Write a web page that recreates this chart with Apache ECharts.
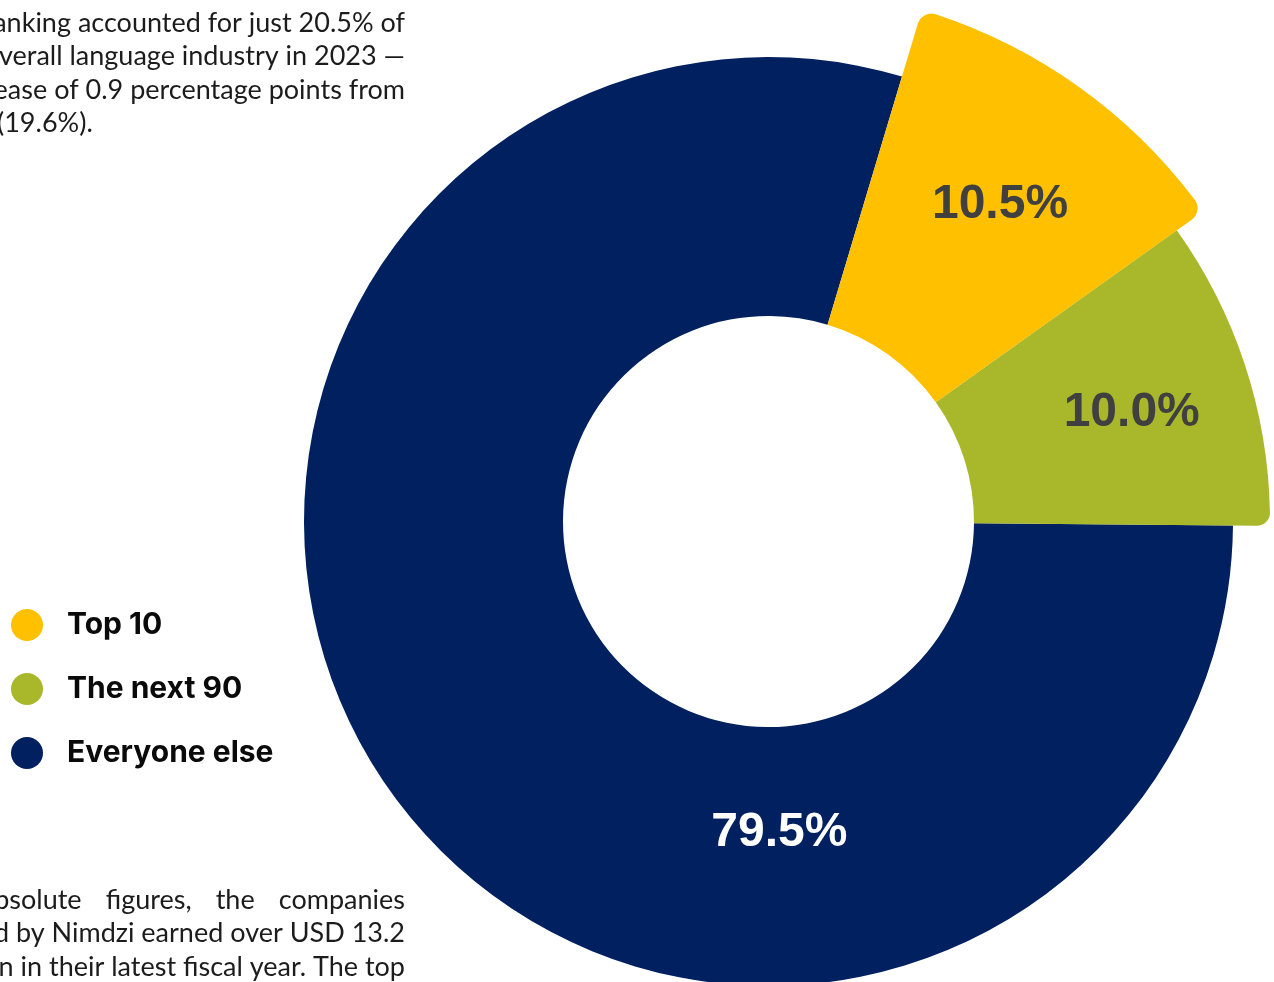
<!DOCTYPE html>
<html>
<head>
<meta charset="utf-8">
<style>
  html, body { margin: 0; padding: 0; background: #ffffff; }
  #chart { width: 1274px; height: 982px; }
</style>
<script src="https://cdn.jsdelivr.net/npm/echarts@6/dist/echarts.min.js"></script>
</head>
<body>
<div id="chart"></div>
<script>
// Share of the overall language industry, 2023 (percent)
const segments = ['The next 90', 'Top 10', 'Everyone else'];
const shares = [10.0, 10.5, 79.5];
const legendOrder = ['Top 10', 'The next 90', 'Everyone else'];
const segmentColors = { 'Top 10': '#FFC000', 'The next 90': '#A8B82A', 'Everyone else': '#00205F' };

// Surrounding report text
const introLines = [
  'ranking accounted for just 20.5% of',
  'the overall language industry in 2023 \u2014',
  'an increase of 0.9 percentage points from'
];
const introLastLine = '(19.6%).';
const outroFirstLine = ['In absolute', 'figures,', 'the', 'companies'];
const outroLines = [
  'ranked by Nimdzi earned over USD 13.2',
  'billion in their latest fiscal year. The top'
];

const CENTER = [768.5, 521.5];
const INNER = 205.5;

// Each segment gets its own ring so it can stand out at its own radius
const rings = {
  'Everyone else': { outer: 464.5, corners: 0, label: { angle: -88, r: 311, color: '#ffffff' }, z: 1 },
  'The next 90':   { outer: 501.5, corners: [0, 0, 13, 0], label: { angle: 16.6, r: 379, color: '#404040' }, z: 2 },
  'Top 10':        { outer: 534,   corners: [0, 0, 14, 14], label: { angle: 53.8, r: 392, color: '#404040' }, z: 3 }
};

function polar(angleDeg, r) {
  const a = angleDeg * Math.PI / 180;
  return [CENTER[0] + r * Math.cos(a), CENTER[1] - r * Math.sin(a)];
}

const series = Object.keys(rings).map(function (own) {
  const ring = rings[own];
  return {
    type: 'pie',
    name: own,
    z: ring.z,
    center: CENTER,
    radius: [INNER, ring.outer],
    startAngle: -0.5,
    clockwise: false,
    silent: true,
    avoidLabelOverlap: false,
    emphasis: { disabled: true },
    labelLine: { show: false },
    itemStyle: { borderRadius: ring.corners, borderWidth: 0 },
    label: {
      show: true,
      position: 'inside',
      fontFamily: 'Liberation Sans',
      fontWeight: 'bold',
      fontSize: 48,
      color: ring.label.color,
      formatter: function (p) { return p.value.toFixed(1) + '%'; }
    },
    labelLayout: function () {
      const pt = polar(ring.label.angle, ring.label.r);
      return { x: pt[0], y: pt[1], align: 'center', verticalAlign: 'middle' };
    },
    data: segments.map(function (name, i) {
      const mine = name === own;
      return {
        name: name,
        value: shares[i],
        itemStyle: { color: mine ? segmentColors[name] : 'rgba(0,0,0,0)' },
        label: { show: mine }
      };
    })
  };
});

const BODY_SIZE = 27;
const bodyFont = { fontFamily: 'Lato', fontSize: BODY_SIZE, fill: '#1c1c1c' };
const RIGHT_EDGE = 405;
const graphics = [];
introLines.forEach(function (t, i) {
  graphics.push({ type: 'text', x: RIGHT_EDGE, y: 23 + i * 33.5,
    style: Object.assign({ text: t, align: 'right', verticalAlign: 'middle' }, bodyFont) });
});
graphics.push({ type: 'text', x: -3, y: 23 + 3 * 33.5,
  style: Object.assign({ text: introLastLine, align: 'left', verticalAlign: 'middle' }, bodyFont) });

// Justify the first line of the closing paragraph across the column
const measureCtx = document.createElement('canvas').getContext('2d');
measureCtx.font = BODY_SIZE + 'px Lato';
function textWidth(t) { return measureCtx.measureText(t).width; }
(function () {
  const lineLeft = -6;                       // left edge of the visible "osolute"
  const firstVisible = textWidth('osolute');
  const rest = outroFirstLine.slice(1);
  const used = firstVisible + rest.reduce(function (s, w) { return s + textWidth(w); }, 0);
  const gap = (RIGHT_EDGE - lineLeft - used) / rest.length;
  let x = lineLeft + firstVisible;
  graphics.push({ type: 'text', x: x, y: 900,
    style: Object.assign({ text: outroFirstLine[0], align: 'right', verticalAlign: 'middle' }, bodyFont) });
  rest.forEach(function (w) {
    x += gap;
    graphics.push({ type: 'text', x: x, y: 900,
      style: Object.assign({ text: w, align: 'left', verticalAlign: 'middle' }, bodyFont) });
    x += textWidth(w);
  });
})();
outroLines.forEach(function (t, i) {
  graphics.push({ type: 'text', x: RIGHT_EDGE, y: 933.5 + i * 33.5,
    style: Object.assign({ text: t, align: 'right', verticalAlign: 'middle' }, bodyFont) });
});

const chart = echarts.init(document.getElementById('chart'), null, { renderer: 'canvas' });
chart.setOption({
  animation: false,
  backgroundColor: '#ffffff',
  legend: {
    orient: 'vertical',
    left: 6,
    top: 604,
    icon: 'circle',
    itemWidth: 32,
    itemHeight: 32,
    itemGap: 32,
    selectedMode: false,
    textStyle: {
      fontFamily: 'Inter',
      fontWeight: 'bold',
      fontSize: 30,
      color: '#0a0a0a',
      padding: [0, 0, 0, 19]
    },
    data: legendOrder.map(function (name) {
      return { name: name, itemStyle: { color: segmentColors[name] } };
    })
  },
  graphic: graphics,
  series: series
});
</script>
</body>
</html>
